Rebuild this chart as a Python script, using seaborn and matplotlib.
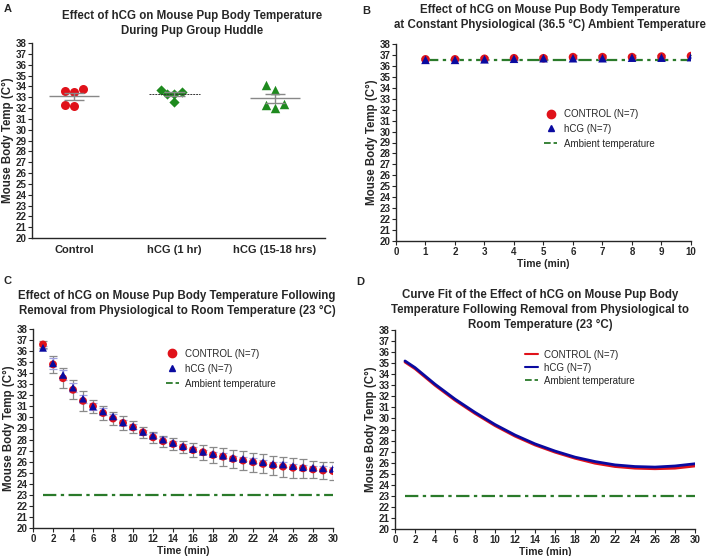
import numpy as np
import pandas as pd
import matplotlib
matplotlib.use("Agg")
import matplotlib.pyplot as plt
from matplotlib.lines import Line2D
import seaborn as sns

# ------------------------------------------------------------
# DATA
# ------------------------------------------------------------

# Panel A - huddle temperatures per pup
groups_a = ["Control", "hCG (1 hr)", "hCG (15-18 hrs)"]
control_a = [33.6, 33.5, 33.8, 32.2, 32.3]
hcg_1hr_a = [33.7, 33.5, 33.3, 33.3, 32.6]
hcg_15_18_a = [34.1, 33.7, 32.4, 32.3, 32.0]

# Panel B - constant 36.5 C ambient
time_b = [1, 2, 3, 4, 5, 6, 7, 8, 9, 10]
control_b = [36.6, 36.6, 36.65, 36.7, 36.7, 36.8, 36.8, 36.8, 36.85, 36.9]
control_b_sem = [0.1, 0.1, 0.12, 0.15, 0.2, 0.15, 0.15, 0.15, 0.12, 0.12]
hcg_b = [36.55, 36.55, 36.6, 36.65, 36.7, 36.7, 36.7, 36.75, 36.75, 36.8]
hcg_b_sem = [0.05, 0.05, 0.05, 0.05, 0.05, 0.05, 0.05, 0.05, 0.05, 0.05]
ambient_b = 36.5

# Panel C - removal to room temperature
time_c = list(range(1, 31))
control_c = [36.6, 34.8, 33.55, 32.5, 31.5, 31.0, 30.4, 29.9, 29.5, 29.1,
             28.65, 28.2, 27.85, 27.6, 27.3, 27.05, 26.85, 26.6, 26.45, 26.25,
             26.1, 25.95, 25.8, 25.65, 25.55, 25.45, 25.4, 25.3, 25.2, 25.15]
control_c_sem = [0.3, 0.8, 0.9, 0.85, 0.9, 0.6, 0.6, 0.55, 0.6, 0.55,
                 0.5, 0.5, 0.5, 0.5, 0.55, 0.6, 0.7, 0.75, 0.8, 0.8,
                 0.85, 0.85, 0.85, 0.85, 0.9, 0.9, 0.85, 0.8, 0.8, 0.8]
hcg_c = [36.3, 34.9, 33.85, 32.7, 31.7, 31.0, 30.55, 30.1, 29.55, 29.2,
         28.7, 28.35, 28.0, 27.7, 27.4, 27.15, 26.9, 26.7, 26.55, 26.35,
         26.25, 26.1, 25.95, 25.8, 25.75, 25.6, 25.5, 25.45, 25.4, 25.35]
hcg_c_sem = [0.15, 0.5, 0.45, 0.4, 0.35, 0.3, 0.3, 0.25, 0.25, 0.25,
             0.2, 0.2, 0.2, 0.2, 0.2, 0.2, 0.2, 0.2, 0.2, 0.2,
             0.2, 0.2, 0.2, 0.2, 0.2, 0.2, 0.2, 0.2, 0.2, 0.2]
ambient_c = 23

# Panel D - fitted curves (read at sample points)
time_d = [1, 2, 4, 6, 8, 10, 12, 14, 16, 18, 20, 22, 24, 26, 28, 30]
control_d = [35.1, 34.5, 33.0, 31.65, 30.45, 29.35, 28.4, 27.6, 26.95,
             26.4, 25.95, 25.65, 25.5, 25.45, 25.5, 25.7]
hcg_d = [35.2, 34.6, 33.1, 31.75, 30.55, 29.45, 28.5, 27.7, 27.05,
         26.5, 26.1, 25.8, 25.65, 25.6, 25.7, 25.9]
ambient_d = 23

LEGEND_LABELS = ["CONTROL (N=7)", "hCG (N=7)", "Ambient temperature"]

RED = "#e0121a"
BLUE = "#0a0aa0"
GREEN = "#1e8a1e"
AMB = "#2a7a2a"

sns.set_style("ticks")
plt.rcParams["font.family"] = ["Liberation Sans", "DejaVu Sans"]
plt.rcParams["axes.linewidth"] = 1.0

fig = plt.figure(figsize=(7.08, 5.56), dpi=100)

W, H = 708.0, 556.0


def axes_px(left, top, right, bottom):
    return fig.add_axes([left / W, 1 - bottom / H, (right - left) / W, (bottom - top) / H])


def style_temp_axis(ax):
    ax.set_ylim(20, 38)
    ax.set_yticks(range(20, 39))
    ax.set_ylabel("Mouse Body Temp (C°)", fontsize=8.3, fontweight="bold", labelpad=1)
    ax.tick_params(axis="both", labelsize=7, length=3, width=0.8, pad=1)
    for lab in ax.get_xticklabels() + ax.get_yticklabels():
        lab.set_fontweight("bold")
    sns.despine(ax=ax)


# ------------------------------------------------------------
# PANEL A
# ------------------------------------------------------------
ax_a = axes_px(32, 43, 325, 238)
df_a = pd.DataFrame({
    "group": [groups_a[0]] * len(control_a) + [groups_a[1]] * len(hcg_1hr_a)
             + [groups_a[2]] * len(hcg_15_18_a),
    "temp": control_a + hcg_1hr_a + hcg_15_18_a,
})
markers_a = ["o", "D", "^"]
colors_a = [RED, GREEN, GREEN]
sizes_a = [6.5, 5.2, 6.8]
for i, g in enumerate(groups_a):
    sub = df_a.copy()
    sub.loc[sub["group"] != g, "temp"] = np.nan
    sns.swarmplot(data=sub, x="group", y="temp", order=groups_a, ax=ax_a,
                  color=colors_a[i], marker=markers_a[i], size=sizes_a[i],
                  linewidth=0)
for i, g in enumerate(groups_a):
    vals = np.array(df_a.loc[df_a["group"] == g, "temp"])
    m = vals.mean()
    s = vals.std(ddof=1) / np.sqrt(len(vals))
    if i == 1:
        ax_a.hlines(m, i - 0.25, i + 0.25, color="#333333", lw=0.7, ls=(0, (2, 1)), zorder=5)
    else:
        ax_a.hlines(m, i - 0.25, i + 0.25, color="#888888", lw=1.0, zorder=5)
    ax_a.hlines([m - s, m + s], i - 0.1, i + 0.1, color="#888888", lw=1.0, zorder=5)
    ax_a.vlines(i, m - s, m + s, color="#888888", lw=1.0, zorder=5)
ax_a.set_xlim(-0.42, 2.5)
ax_a.set_xlabel("")
style_temp_axis(ax_a)
ax_a.tick_params(axis="x", labelsize=8, length=0, pad=5)
for lab in ax_a.get_xticklabels():
    lab.set_fontweight("bold")


# ------------------------------------------------------------
# helper for B and C
# ------------------------------------------------------------
def mean_sem_panel(ax, t, ctrl, ctrl_sem, hcg, hcg_sem, ambient, ms):
    df = pd.DataFrame({"time": t * 2, "temp": ctrl + hcg,
                       "group": LEGEND_LABELS[:1] * len(t) + LEGEND_LABELS[1:2] * len(t)})
    ax.errorbar(t, ctrl, yerr=ctrl_sem, fmt="none", ecolor="#8a8a8a",
                elinewidth=0.9, capsize=3, capthick=0.9, zorder=2)
    ax.errorbar(t, hcg, yerr=hcg_sem, fmt="none", ecolor="#a0a0e0",
                elinewidth=0.9, capsize=3, capthick=0.9, zorder=2)
    sns.scatterplot(data=df, x="time", y="temp", hue="group", style="group",
                    palette=[RED, BLUE], markers=["o", "^"], s=ms,
                    linewidth=0, ax=ax, zorder=3)
    amb = pd.DataFrame({"time": [t[0], t[-1]], "temp": [ambient, ambient]})
    sns.lineplot(data=amb, x="time", y="temp", color=AMB, lw=1.6,
                 ls=(0, (6, 2, 1.5, 2)), ax=ax, zorder=1)


def legend_panel(ax, x, y, handles, spacing):
    ax.legend(handles, LEGEND_LABELS,
              loc="upper left", bbox_to_anchor=(x, y), frameon=False,
              fontsize=7, handlelength=1.3, handletextpad=0.7, labelspacing=spacing,
              borderaxespad=0)


marker_handles = [Line2D([], [], marker="o", color=RED, ls="none", markersize=6),
                  Line2D([], [], marker="^", color=BLUE, ls="none", markersize=5),
                  Line2D([], [], color=AMB, ls="--", lw=1.3)]

# ------------------------------------------------------------
# PANEL B
# ------------------------------------------------------------
ax_b = axes_px(396, 44, 691, 241)
mean_sem_panel(ax_b, time_b, control_b, control_b_sem, hcg_b, hcg_b_sem, ambient_b, 38)
ax_b.set_xlim(0, 10)
ax_b.set_xticks(range(0, 11))
ax_b.set_xlabel("Time (min)", fontsize=7.5, fontweight="bold", labelpad=2)
style_temp_axis(ax_b)
legend_panel(ax_b, 0.49, 0.69, marker_handles, 0.5)

# ------------------------------------------------------------
# PANEL C
# ------------------------------------------------------------
ax_c = axes_px(33, 329, 333, 528)
mean_sem_panel(ax_c, time_c, control_c, control_c_sem, hcg_c, hcg_c_sem, ambient_c, 32)
ax_c.set_xlim(0, 30)
ax_c.set_xticks(range(0, 31, 2))
ax_c.set_xlabel("Time (min)", fontsize=7.5, fontweight="bold", labelpad=2)
style_temp_axis(ax_c)
legend_panel(ax_c, 0.43, 0.92, marker_handles, 0.5)

# ------------------------------------------------------------
# PANEL D
# ------------------------------------------------------------
ax_d = axes_px(395, 330, 695, 529)
df_d = pd.DataFrame({"time": time_d * 2, "temp": control_d + hcg_d,
                     "group": LEGEND_LABELS[:1] * len(time_d) + LEGEND_LABELS[1:2] * len(time_d)})
sns.lineplot(data=df_d, x="time", y="temp", hue="group", palette=[RED, BLUE],
             lw=2.0, ax=ax_d, legend=False)
amb_d = pd.DataFrame({"time": [1, 30], "temp": [ambient_d, ambient_d]})
sns.lineplot(data=amb_d, x="time", y="temp", color=AMB, lw=1.6,
             ls=(0, (6, 2, 1.5, 2)), ax=ax_d, legend=False)
ax_d.set_xlim(0, 30)
ax_d.set_xticks(range(0, 31, 2))
ax_d.set_xlabel("Time (min)", fontsize=7.5, fontweight="bold", labelpad=2)
style_temp_axis(ax_d)
line_handles = [Line2D([], [], color=RED, lw=1.5), Line2D([], [], color=BLUE, lw=1.5),
                Line2D([], [], color=AMB, ls="--", lw=1.3)]
legend_panel(ax_d, 0.42, 0.92, line_handles, 0.3)

# ------------------------------------------------------------
# TITLES AND PANEL LETTERS
# ------------------------------------------------------------
tkw = dict(fontsize=8.3, fontweight="bold", ha="center", va="top", linespacing=1.35)
fig.text(192 / W, 1 - 10 / H,
         "Effect of hCG on Mouse Pup Body Temperature\nDuring Pup Group Huddle", **tkw)
fig.text(550 / W, 1 - 4 / H,
         "Effect of hCG on Mouse Pup Body Temperature\n"
         "at Constant Physiological (36.5 °C) Ambient Temperature", **tkw)
fig.text(177 / W, 1 - 290 / H,
         "Effect of hCG on Mouse Pup Body Temperature Following\n"
         "Removal from Physiological to Room Temperature (23 °C)", **tkw)
fig.text(540 / W, 1 - 289 / H,
         "Curve Fit of the Effect of hCG on Mouse Pup Body\n"
         "Temperature Following Removal from Physiological to\n"
         "Room Temperature (23 °C)", **tkw)

lkw = dict(fontsize=8, fontweight="bold", ha="left", va="top")
fig.text(4 / W, 1 - 4 / H, "A", **lkw)
fig.text(362 / W, 1 - 6 / H, "B", **lkw)
fig.text(3 / W, 1 - 276 / H, "C", **lkw)
fig.text(356 / W, 1 - 277 / H, "D", **lkw)

fig.savefig("out.png", dpi=100)
